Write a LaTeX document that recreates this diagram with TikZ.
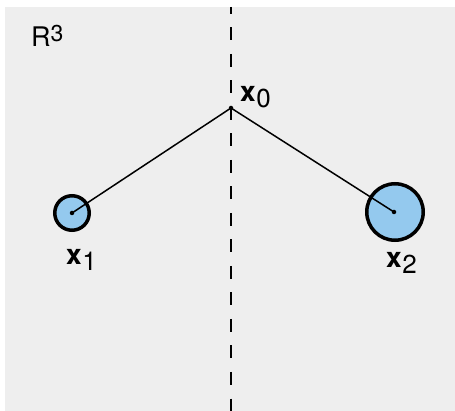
\documentclass[tikz,border=0pt]{standalone}
\usepackage{fontspec}
\setmainfont{TeX Gyre Heros}
\usepackage{tikz}

\definecolor{paper}{HTML}{EEEEEE}
\definecolor{ballblue}{HTML}{94C9EE}

\newcommand{\ptx}[1]{{\bfseries x}\hspace{0.5pt}\raisebox{-6pt}{\fontsize{26}{26}\selectfont #1}}

\tikzset{
    ball/.style={circle, draw=black, line width=3.5pt, fill=ballblue, inner sep=0pt},
    dot/.style={circle, fill=black, inner sep=0pt, minimum size=4.5pt},
    lbl/.style={anchor=base west, inner sep=0pt, font=\fontsize{28}{34}\selectfont}
}

\begin{document}
\begin{tikzpicture}[x=1pt, y=-1pt]
    \useasboundingbox (0,0) rectangle (455,411);
    \fill[paper] (5,7) rectangle (455,411);

    \coordinate (top) at (231,7);
    \coordinate (bot) at (231,411);
    \draw[line width=2pt, dash pattern=on 13pt off 13.5pt, dash phase=6pt] (top) -- (bot);

    \node[ball, minimum size=34.5pt] at (72,213)  (b1) {};
    \node[ball, minimum size=56.5pt] at (395,212) (b2) {};

    \node[dot] at (231,108) (0) {};
    \node[dot] at (72,213)  (1) {};
    \node[dot] at (394,212) (2) {};

    \draw[line width=1.5pt] (0.center) -- (1.center);
    \draw[line width=1.5pt] (0.center) -- (2.center);

    \node[lbl] at (240,102) (l0) {\ptx{0}};
    \node[lbl] at (66,265)  (l1) {\ptx{1}};
    \node[lbl] at (386,268) (l2) {\ptx{2}};
    \node[lbl, font=\fontsize{27}{32}\selectfont] at (31,47) (r3) {R\raisebox{5pt}{\fontsize{23}{23}\selectfont 3}};
\end{tikzpicture}
\end{document}
